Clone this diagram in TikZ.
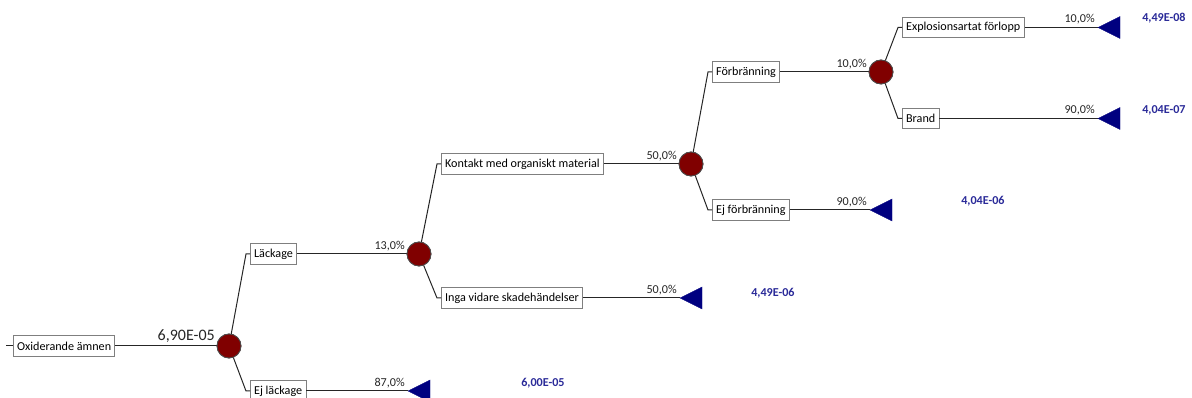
\documentclass[tikz,border=0pt]{standalone}
\usepackage{fontspec}
\setmainfont{Carlito}
\definecolor{boxgray}{HTML}{7F7F7F}
\definecolor{nodered}{HTML}{800000}
\definecolor{trinavy}{HTML}{000080}
\definecolor{valblue}{HTML}{2B2B99}
\begin{document}
\begin{tikzpicture}[x=0.75pt,y=-0.75pt,
  evbox/.style={draw=boxgray,line width=0.6pt,fill=white,anchor=west,inner xsep=2.8pt,inner ysep=0pt,minimum height=15.6pt,font=\fontsize{9.1}{11}\selectfont,text=black},
  chance/.style={circle,draw=black!70,line width=0.6pt,fill=nodered,minimum size=18pt,inner sep=0pt},
  conn/.style={draw=black!85,line width=0.75pt},
  prob/.style={anchor=south east,inner sep=0pt,font=\fontsize{9.1}{11}\selectfont,text=black!85},
  val/.style={anchor=west,inner sep=0pt,font=\fontsize{9.1}{11}\selectfont\bfseries,text=valblue},
  endtri/.style={fill=trinavy,draw=trinavy,line width=0.3pt}]
\useasboundingbox (0,0) rectangle (1192,398);

% nodes
\node[evbox] (root) at (13,346) {Oxiderande ämnen};
\coordinate (rootstub) at (6,346);
\node[chance] (c1) at (229,346) {};
\node[evbox] (lack) at (250,254) {Läckage};
\node[evbox] (ejlack) at (250,391) {Ej läckage};
\node[chance] (c2) at (419,254) {};
\node[evbox] (kont) at (441,164) {Kontakt med organiskt material};
\node[evbox] (inga) at (441,298) {Inga vidare skadehändelser};
\node[chance] (c3) at (691,164) {};
\node[evbox] (forb) at (712,72) {Förbränning};
\node[evbox] (ejforb) at (712,210) {Ej förbränning};
\node[chance] (c4) at (881,72) {};
\node[evbox] (expl) at (902,27.5) {Explosionsartat förlopp};
\node[evbox] (brand) at (902,118.5) {Brand};

% terminal tips
\coordinate (t1) at (408,391);
\coordinate (t2) at (680,298);
\coordinate (t3) at (870,210);
\coordinate (t4) at (1098,27.5);
\coordinate (t5) at (1098,118.5);

% connectors
\draw[conn] (rootstub) -- (root.west);
\draw[conn] (root.east) -- (c1);
\draw[conn] (c1) -- ([xshift=-3pt]lack.west) -- (lack.west);
\draw[conn] (c1) -- ([xshift=-3pt]ejlack.west) -- (ejlack.west);
\draw[conn] (lack.east) -- (c2);
\draw[conn] (ejlack.east) -- (t1);
\draw[conn] (c2) -- ([xshift=-3pt]kont.west) -- (kont.west);
\draw[conn] (c2) -- ([xshift=-3pt]inga.west) -- (inga.west);
\draw[conn] (kont.east) -- (c3);
\draw[conn] (inga.east) -- (t2);
\draw[conn] (c3) -- ([xshift=-3pt]forb.west) -- (forb.west);
\draw[conn] (c3) -- ([xshift=-3pt]ejforb.west) -- (ejforb.west);
\draw[conn] (forb.east) -- (c4);
\draw[conn] (ejforb.east) -- (t3);
\draw[conn] (c4) -- ([xshift=-3pt]expl.west) -- (expl.west);
\draw[conn] (c4) -- ([xshift=-3pt]brand.west) -- (brand.west);
\draw[conn] (expl.east) -- (t4);
\draw[conn] (brand.east) -- (t5);

% redraw chance nodes on top
\foreach \c in {c1,c2,c3,c4} {\node[chance] at (\c) {};}

% triangles
\foreach \t in {t1,t2,t3,t4,t5} {\draw[endtri] (\t) -- ++(22,-11) -- ++(0,22) -- cycle;}

% probability labels
\node[prob,font=\fontsize{12}{14}\selectfont,text=black!85] (p1) at (215,343) {6,90E-05};
\node[prob] (p2) at (405,251) {13,0\%};
\node[prob] (p3) at (405,388) {87,0\%};
\node[prob] (p4) at (677,161) {50,0\%};
\node[prob] (p5) at (677,295) {50,0\%};
\node[prob] (p6) at (867,69) {10,0\%};
\node[prob] (p7) at (867,207) {90,0\%};
\node[prob] (p8) at (1095,24.5) {10,0\%};
\node[prob] (p9) at (1095,115.5) {90,0\%};

% values
\node[val] (v1) at (521,383) {6,00E-05};
\node[val] (v2) at (751,293) {4,49E-06};
\node[val] (v3) at (961,201) {4,04E-06};
\node[val] (v4) at (1142,18.5) {4,49E-08};
\node[val] (v5) at (1142,110) {4,04E-07};
\end{tikzpicture}
\end{document}
